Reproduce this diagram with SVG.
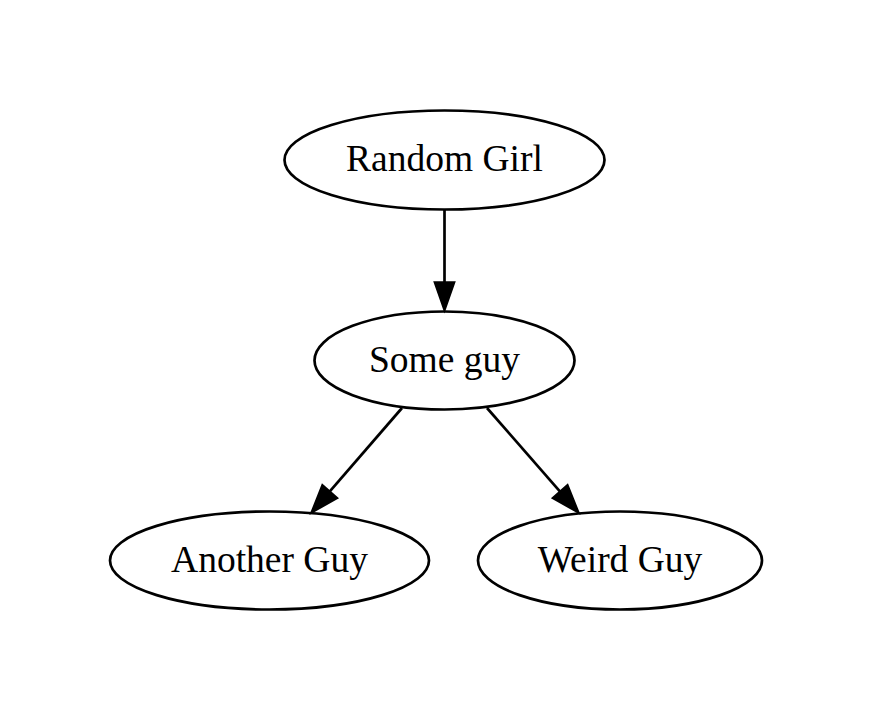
<svg xmlns="http://www.w3.org/2000/svg" width="872" height="722" viewBox="0 0 872 722">
<style>
.n ellipse{fill:none;stroke:#000;stroke-width:2.7}
.n text{font-family:"Liberation Serif","Times New Roman",serif;font-size:37.5px;text-anchor:middle;fill:#000}
.e line{stroke:#000;stroke-width:2.7}
.e polygon{fill:#000;stroke:#000;stroke-width:2.7}
</style>
<rect width="872" height="722" fill="#fff"/>
<g id="edges" class="e">
<line x1="444.5" y1="210" x2="444.5" y2="283"/>
<polygon points="435.1,282.7 453.9,282.7 444.5,309.5"/>
<line x1="402" y1="408" x2="329.6" y2="491.7"/>
<polygon points="336.7,497.9 322.5,485.5 312,512"/>
<line x1="487" y1="408" x2="560.3" y2="491.8"/>
<polygon points="567.4,485.6 553.2,498 578,512"/>
</g>
<g id="random-girl" class="n">
<ellipse cx="444.5" cy="160" rx="160" ry="49.5"/>
<text x="444.5" y="171">Random Girl</text>
</g>
<g id="some-guy" class="n">
<ellipse cx="444.5" cy="360.5" rx="130" ry="49"/>
<text x="444.5" y="371.5">Some guy</text>
</g>
<g id="another-guy" class="n">
<ellipse cx="269.5" cy="560.5" rx="159.5" ry="49"/>
<text x="269.5" y="571.5">Another Guy</text>
</g>
<g id="weird-guy" class="n">
<ellipse cx="620" cy="560.5" rx="142" ry="49"/>
<text x="620" y="571.5">Weird Guy</text>
</g>
</svg>
